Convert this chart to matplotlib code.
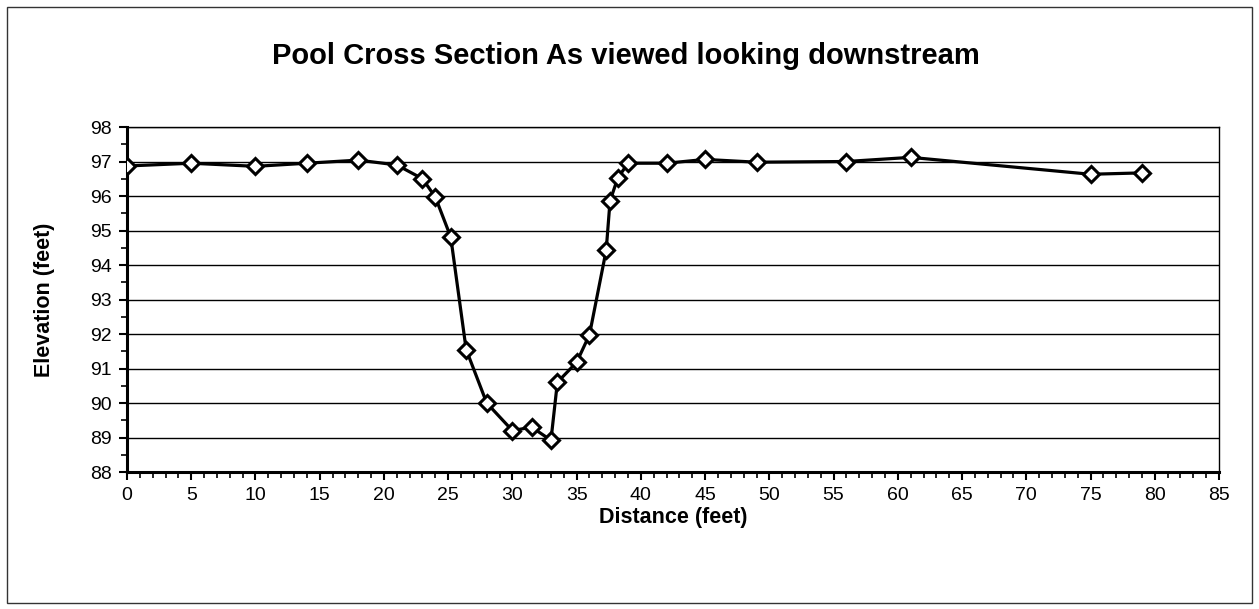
import matplotlib
matplotlib.use("Agg")
import matplotlib.pyplot as plt
from matplotlib.patches import Rectangle
from matplotlib.ticker import MultipleLocator

plt.rcParams["font.family"] = ["Liberation Sans", "DejaVu Sans"]

# ── Data ──────────────────────────────────────────────────────────────────────
distance = [0, 5, 10, 14, 18, 21, 23, 24, 25.2, 26.4, 28, 30, 31.5, 33,
            33.5, 35, 36, 37.3, 37.6, 38.2, 39, 42, 45, 49, 56, 61, 75, 79]
elevation = [96.87, 96.95, 96.86, 96.95, 97.04, 96.9, 96.5, 95.97, 94.81,
             91.55, 90.0, 89.2, 89.3, 88.92, 90.6, 91.18, 91.98, 94.43,
             95.86, 96.52, 96.95, 96.95, 97.06, 96.98, 97.0, 97.12, 96.63,
             96.67]

x_ticks = list(range(0, 90, 5))
y_ticks = list(range(88, 99))

# ── Figure ────────────────────────────────────────────────────────────────────
fig = plt.figure(figsize=(12.59, 6.09), dpi=100)
fig.patch.set_facecolor("white")
ax = fig.add_axes([127 / 1259, 1 - 472 / 609, (1219 - 127) / 1259, (472 - 127) / 609])

# outer chart border
fig.add_artist(Rectangle((7 / 1259, 6 / 609), 1245 / 1259, 596 / 609,
                         transform=fig.transFigure, fill=False,
                         edgecolor="#333333", linewidth=1.0))

ax.plot(distance, elevation, color="black", linewidth=2.3,
        marker="D", markersize=8.5, markerfacecolor="white",
        markeredgecolor="black", markeredgewidth=2.2, zorder=3)

ax.set_xlim(0, 85)
ax.set_ylim(88, 98)
ax.set_xticks(x_ticks)
ax.set_yticks(y_ticks)
ax.xaxis.set_minor_locator(MultipleLocator(1))
ax.yaxis.set_minor_locator(MultipleLocator(0.5))

ax.grid(True, axis="y", which="major", color="black", linewidth=1.0)
ax.set_axisbelow(True)
for sp in ax.spines.values():
    sp.set_color("black")
    sp.set_linewidth(1.0)
ax.spines["left"].set_linewidth(2.2)
ax.spines["bottom"].set_linewidth(2.2)

ax.tick_params(axis="both", which="major", direction="out", length=6,
               width=1.5, labelsize=14, colors="black", pad=5)
ax.tick_params(axis="both", which="minor", direction="out", length=4,
               width=1.2, colors="black")

ax.set_xlabel("Distance (feet)", fontsize=15.5, fontweight="bold")
ax.set_ylabel("Elevation (feet)", fontsize=15.5, fontweight="bold")
ax.xaxis.set_label_coords(0.5, (472 - 518) / 345)
ax.yaxis.set_label_coords((45 - 127) / 1092, 0.5)
ax.xaxis.label.set_va("center")
ax.yaxis.label.set_va("center")

fig.text(626 / 1259, 1 - 56 / 609, "Pool Cross Section As viewed looking downstream",
         ha="center", va="center", fontsize=21, fontweight="bold")

plt.savefig("out.png", dpi=100, facecolor=fig.get_facecolor())
plt.close()
